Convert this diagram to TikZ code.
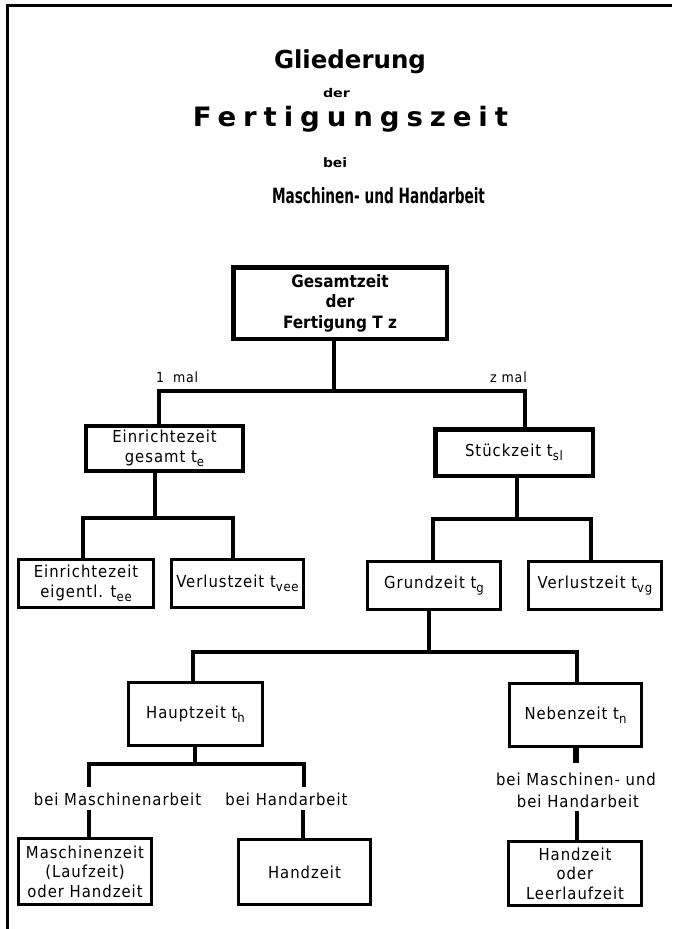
\documentclass[tikz,border=0pt]{standalone}
\usepackage{fontspec}
\usepackage{graphicx}
\setmainfont{DejaVu Sans Condensed}[BoldFont={DejaVu Sans Condensed Bold},LetterSpace=6]
\newfontfamily\gboldfont{DejaVu Sans Condensed Bold}
\newfontfamily\titlefont{DejaVu Sans Bold}
\newfontfamily\titlespaced{DejaVu Sans Bold}[LetterSpace=25]
\newcommand\bodysize{\fontsize{16.5}{19.5}\selectfont}
\newcommand\lsub[1]{\raisebox{-4pt}{\fontsize{13}{13}\selectfont #1}}
\newcommand\fitline[2]{\resizebox{#1}{\height}{#2}}
\begin{document}
\begin{tikzpicture}[x=1pt,y=-1pt,
  bx/.style={draw, line width=3pt, inner sep=0pt, align=center, font=\bodysize},
  bxthick/.style={bx, line width=4.5pt},
  conn/.style={line width=4.5pt, line join=miter},
  lbl/.style={inner sep=0pt, font=\bodysize},
  ttl/.style={inner sep=0pt, anchor=base}]
\useasboundingbox (0,0) rectangle (672,929);
% frame
\draw[line width=3pt, line join=miter] (7.5,929) -- (7.5,5.5) -- (672,5.5);
% title
\node[ttl] (t1) at (350,68) {\fitline{152pt}{\titlefont\fontsize{24.7}{26}\selectfont Gliederung}};
\node[ttl] (t2) at (336.5,97) {\fitline{27pt}{\titlefont\fontsize{12}{13}\selectfont der}};
\node[ttl] (t3) at (350.5,126) {\fitline{315pt}{\titlespaced\fontsize{26.7}{28}\selectfont Fertigungszeit}};
\node[ttl] (t4) at (335,167) {\fitline{24pt}{\titlefont\fontsize{13}{14}\selectfont bei}};
\node[ttl] (t5) at (378.5,203) {\fitline{213pt}{\titlefont\fontsize{21}{22}\selectfont Maschinen- und Handarbeit}};
% boxes
\node[bxthick, minimum width=213.5pt, minimum height=71.5pt,
      font={\gboldfont\fontsize{17}{20.5}\selectfont}] (G) at (340,303) {Gesamtzeit\\der\\Fertigung T z};
\node[bxthick, line width=4pt, minimum width=157pt, minimum height=45pt] (E) at (164.5,448.5) {Einrichtezeit\\gesamt t\lsub{e}};
\node[bxthick, minimum width=157.5pt, minimum height=46.5pt] (S) at (514,452.5) {Stückzeit t\lsub{sl}};
\node[bx, minimum width=135pt, minimum height=48pt] (EE) at (86,583.5) {Einrichtezeit\\eigentl. t\lsub{ee}};
\node[bx, minimum width=132pt, minimum height=48pt] (VE) at (237.5,583.5) {Verlustzeit t\lsub{vee}};
\node[bx, minimum width=133pt, minimum height=48pt] (GZ) at (434,585.5) {Grundzeit t\lsub{g}};
\node[bx, minimum width=133pt, minimum height=48pt] (VG) at (595,585.5) {Verlustzeit t\lsub{vg}};
\node[bx, minimum width=134pt, minimum height=63pt] (H) at (195.5,714) {Hauptzeit t\lsub{h}};
\node[bx, minimum width=132pt, minimum height=63pt] (N) at (575.5,715) {Nebenzeit t\lsub{n}};
\node[bx, minimum width=133pt, minimum height=66pt] (MZ) at (85,871.5) {Maschinenzeit\\(Laufzeit)\\oder Handzeit};
\node[bx, minimum width=132pt, minimum height=65pt] (HZ) at (304.5,872) {Handzeit};
\node[bx, minimum width=133pt, minimum height=64pt] (HL) at (575,873.5) {Handzeit\\oder\\Leerlaufzeit};
% labels
\node[lbl, anchor=base west, font=\fontsize{14}{16}\selectfont] (m1) at (156,382) {1 \hspace{4pt}mal};
\node[lbl, anchor=base east, font=\fontsize{14}{16}\selectfont] (mz) at (527,382) {z mal};
\node[lbl, anchor=base] (LM) at (117.5,805) {bei Maschinenarbeit};
\node[lbl, anchor=base] (LH) at (286.5,805) {bei Handarbeit};
\node[lbl, anchor=base] (LN1) at (576,785) {bei Maschinen- und};
\node[lbl, anchor=base] (LN2) at (578,807) {bei Handarbeit};
% connectors
\coordinate (jG) at (334,391);
\draw[conn] ([xshift=-6pt]G.south) -- (jG);
\draw[conn] ([xshift=-5.5pt]E.north) |- (jG) -| ([xshift=11pt]S.north);
\coordinate (jE) at (155,518);
\draw[conn] ([xshift=-9.5pt]E.south) -- (jE);
\draw[conn] ([xshift=-3pt]EE.north) |- (jE) -| ([xshift=-4.5pt]VE.north);
\coordinate (jS) at (517,519);
\draw[conn] ([xshift=3pt]S.south) -- (jS);
\draw[conn] ([xshift=-1pt]GZ.north) |- (jS) -| ([xshift=-4pt]VG.north);
\coordinate (jGZ) at (429,652);
\draw[conn] ([xshift=-5pt]GZ.south) -- (jGZ);
\draw[conn] ([xshift=-2.5pt]H.north) |- (jGZ) -| ([xshift=1.5pt]N.north);
\coordinate (jH) at (195,764);
\draw[conn] ([xshift=-0.5pt]H.south) -- (jH);
\coordinate (LMt) at (89,787);
\coordinate (LHt) at (304,787);
\draw[conn] (LMt) |- (jH) -| (LHt);
\coordinate (LMb) at (89,810);
\coordinate (LHb) at (303,810);
\draw[conn] (LMb) -- (MZ.north -| LMb);
\draw[conn] (LHb) -- (HZ.north -| LHb);
\coordinate (LNt) at (575.5,763);
\draw[line width=6pt] (N.south) -- (LNt);
\coordinate (LNb) at (577,811);
\draw[conn] (LNb) -- (HL.north -| LNb);
\end{tikzpicture}
\end{document}
